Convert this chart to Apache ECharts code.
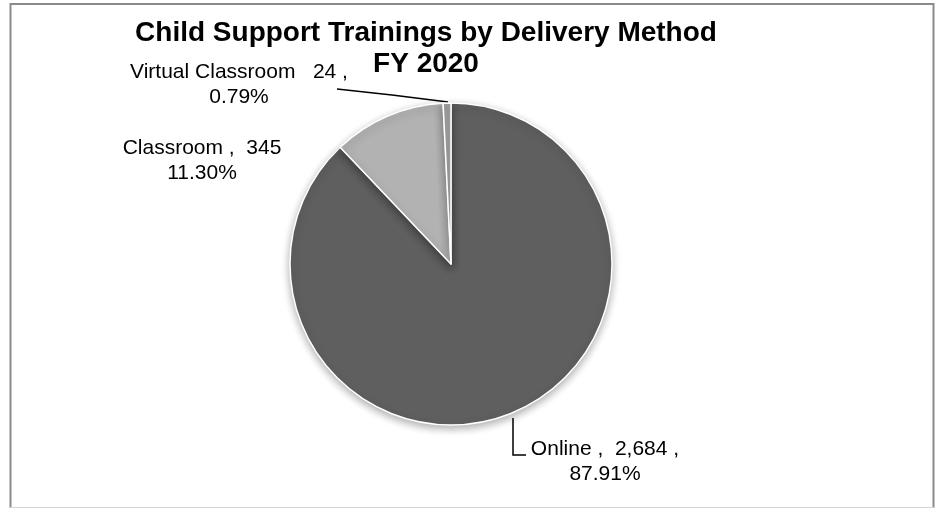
<!DOCTYPE html>
<html>
<head>
<meta charset="utf-8">
<script src="https://cdn.jsdelivr.net/npm/echarts@6/dist/echarts.min.js"></script>
<style>
  html, body { margin: 0; padding: 0; background: #ffffff; }
  #chart { width: 941px; height: 509px; }
</style>
</head>
<body>
<div id="chart"></div>
<script>
// Training counts by delivery method, FY 2020
const categories = ['Online', 'Classroom', 'Virtual Classroom'];
const counts = [2684, 345, 24];
const sliceColors = ['#5f5f5f', '#b2b2b2', '#a2a2a2'];

const total = counts.reduce((a, b) => a + b, 0);
const fmtInt = n => n.toLocaleString('en-US');
const pct = n => (n / total * 100).toFixed(2) + '%';

// Label text per slice (two lines each)
const labelText = [
  i => categories[i] + ' ,  ' + fmtInt(counts[i]) + ' ,\n' + pct(counts[i]),
  i => categories[i] + ' ,  ' + fmtInt(counts[i]) + '\n' + pct(counts[i]),
  i => categories[i] + '   ' + fmtInt(counts[i]) + ' ,\n' + pct(counts[i])
];

const chart = echarts.init(document.getElementById('chart'), null, { renderer: 'canvas' });

const cx = 451, cy = 264, r = 161;

chart.setOption({
  animation: false,
  title: {
    text: 'Child Support Trainings by Delivery Method\nFY 2020',
    left: 421,
    top: 13,
    textAlign: 'center',
    textStyle: {
      fontFamily: 'Liberation Sans, Arial, sans-serif',
      fontWeight: 'bold',
      fontSize: 28,
      lineHeight: 31,
      color: '#000000'
    }
  },
  graphic: [
    { type: 'line', shape: { x1: 10.5, y1: 3, x2: 10.5, y2: 508 }, style: { stroke: '#8a8a8a', lineWidth: 2 } },
    { type: 'line', shape: { x1: 10, y1: 4, x2: 934, y2: 4 }, style: { stroke: '#8a8a8a', lineWidth: 2 } },
    { type: 'line', shape: { x1: 933.5, y1: 3, x2: 933.5, y2: 508 }, style: { stroke: '#8a8a8a', lineWidth: 2 } },
    { type: 'line', shape: { x1: 10, y1: 507.5, x2: 934, y2: 507.5 }, style: { stroke: '#d4d4d4', lineWidth: 1 } }
  ],
  series: [{
    type: 'pie',
    center: [cx, cy],
    radius: [0, r],
    startAngle: 90,
    clockwise: true,
    avoidLabelOverlap: false,
    itemStyle: {
      borderColor: '#ffffff',
      borderWidth: 1.5,
      shadowBlur: 8,
      shadowColor: 'rgba(0,0,0,0.32)',
      shadowOffsetY: 3
    },
    label: {
      show: true,
      position: 'outside',
      fontFamily: 'Liberation Sans, Arial, sans-serif',
      fontSize: 21,
      lineHeight: 25,
      color: '#000000',
      align: 'center',
      formatter: p => labelText[p.dataIndex](p.dataIndex)
    },
    labelLine: {
      show: true,
      lineStyle: { color: '#000000', width: 1.5 }
    },
    labelLayout: function (p) {
      const i = p.dataIndex;
      if (i === 0) {
        return {
          x: 605, y: 462, align: 'center', verticalAlign: 'middle',
          labelLinePoints: [[513, 418], [513, 455], [526, 455]]
        };
      }
      if (i === 1) {
        return { x: 202, y: 161, align: 'center', verticalAlign: 'middle' };
      }
      return {
        x: 239, y: 85, align: 'center', verticalAlign: 'middle',
        labelLinePoints: [[448, 102], [392, 95], [337, 89]]
      };
    },
    data: categories.map((name, i) => ({
      name: name,
      value: counts[i],
      itemStyle: { color: sliceColors[i] },
      labelLine: { show: i !== 1 }
    }))
  }]
});
</script>
</body>
</html>
